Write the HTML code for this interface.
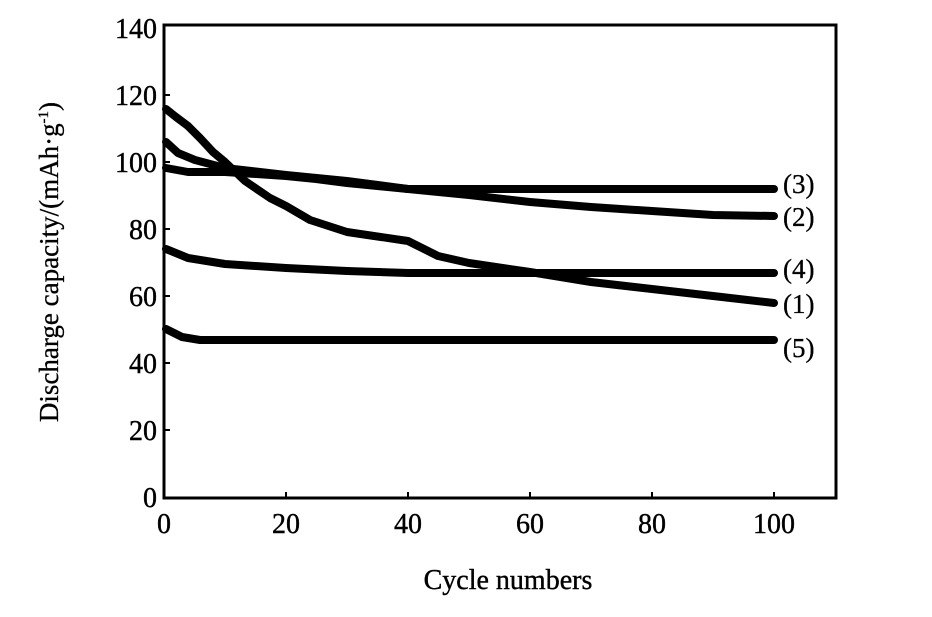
<!DOCTYPE html><html><head><style>body{margin:0;background:#fff}svg{display:block}text{font-family:"Liberation Serif",serif;fill:#000}</style></head><body>
<svg width="932" height="617" viewBox="0 0 932 617">
<rect x="164" y="25" width="672" height="473" fill="none" stroke="#000" stroke-width="3"/>
<g stroke="#000" stroke-width="2">
<line x1="286" y1="498" x2="286" y2="492"/><line x1="408" y1="498" x2="408" y2="492"/><line x1="530" y1="498" x2="530" y2="492"/><line x1="652" y1="498" x2="652" y2="492"/><line x1="774" y1="498" x2="774" y2="492"/>
<line x1="164" y1="95" x2="170" y2="95"/><line x1="164" y1="162" x2="170" y2="162"/><line x1="164" y1="229" x2="170" y2="229"/><line x1="164" y1="296" x2="170" y2="296"/><line x1="164" y1="363" x2="170" y2="363"/><line x1="164" y1="430" x2="170" y2="430"/>
</g>
<g font-size="28" text-anchor="end" stroke="#000" stroke-width="0.4">
<text x="157" y="38">140</text><text x="157" y="105">120</text><text x="157" y="172">100</text><text x="157" y="239">80</text><text x="157" y="306">60</text><text x="157" y="373">40</text><text x="157" y="440">20</text><text x="157" y="507">0</text>
</g>
<g font-size="28" text-anchor="middle" stroke="#000" stroke-width="0.4">
<text x="164" y="533">0</text><text x="286" y="533">20</text><text x="408" y="533">40</text><text x="530" y="533">60</text><text x="652" y="533">80</text><text x="774" y="533">100</text>
<text x="508" y="589">Cycle numbers</text>
</g>
<text font-size="27" text-anchor="middle" stroke="#000" stroke-width="0.3" transform="translate(58,262) rotate(-90)">Discharge capacity/(mAh·g<tspan font-size="15" dy="-10">-1</tspan><tspan dy="10">)</tspan></text>
<g fill="none" stroke="#000" stroke-width="8" stroke-linejoin="round" stroke-linecap="round">
<polyline points="166,109 176,117 188,126 200,138 213,152 225,162 245,181 270,198 286,206 310,220 347,232 408,241 438,256 469,263 530,272 591,282 652,289 713,296 774,303"/>
<polyline points="166,142 178,153 195,160 225,168 286,175 347,181 408,189 469,195 530,202 591,207 652,211 713,215 774,216"/>
<polyline points="166,168 188,172 225,172 286,176 316,179 347,183 408,189 469,189 774,189"/>
<polyline points="166,249 188,258 225,264 286,268 347,271 408,273 774,273"/>
<polyline points="166,329 182,337 200,340 774,340"/>
</g>
<g font-size="27" stroke="#000" stroke-width="0.3">
<text x="783" y="193">(3)</text><text x="783" y="226">(2)</text><text x="783" y="278">(4)</text><text x="783" y="313">(1)</text><text x="783" y="357">(5)</text>
</g>
</svg></body></html>
